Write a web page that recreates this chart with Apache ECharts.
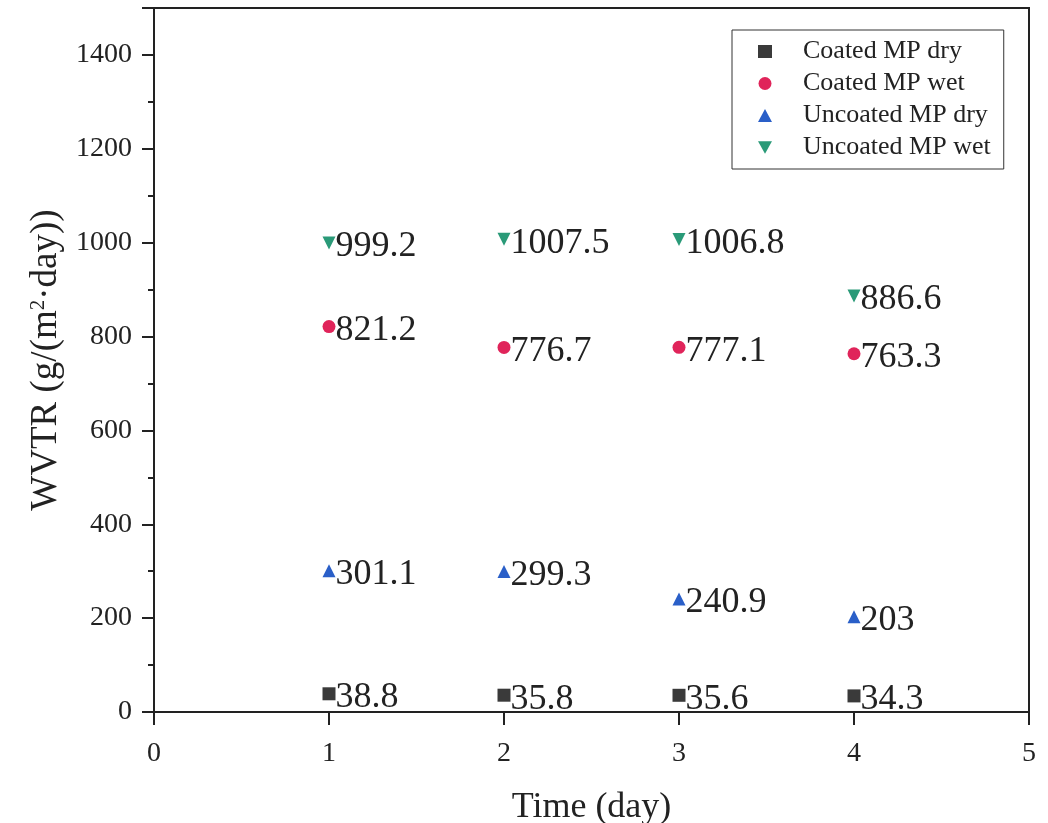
<!DOCTYPE html>
<html>
<head>
<meta charset="utf-8">
<script src="https://cdn.jsdelivr.net/npm/echarts@6/dist/echarts.min.js"></script>
<style>
html,body{margin:0;padding:0;background:#fff;}
#chart{width:1048px;height:823px;}
</style>
</head>
<body>
<div id="chart"></div>
<script>
const days = [1, 2, 3, 4];
const coatedDry = [38.8, 35.8, 35.6, 34.3];
const coatedWet = [821.2, 776.7, 777.1, 763.3];
const uncoatedDry = [301.1, 299.3, 240.9, 203];
const uncoatedWet = [999.2, 1007.5, 1006.8, 886.6];
const seriesNames = ['Coated MP dry', 'Coated MP wet', 'Uncoated MP dry', 'Uncoated MP wet'];
const xTicks = [0, 1, 2, 3, 4, 5];
const yTicks = [0, 200, 400, 600, 800, 1000, 1200, 1400];

const FONT = '"Liberation Serif", "DejaVu Serif", serif';
const TXT = '#222';
const DOWN_TRI = 'path://M0,0 L10,0 L5,9 Z';

function mk(name, vals, symbol, color, rotate) {
  return {
    name: name,
    type: 'scatter',
    symbol: symbol,
    symbolSize: 13,
    symbolRotate: rotate || 0,
    itemStyle: { color: color, opacity: 1 },
    data: days.map((d, i) => [d, vals[i]]),
    label: {
      show: true,
      position: 'right',
      distance: 0,
      offset: [0, 4],
      fontFamily: FONT,
      fontSize: 36,
      color: TXT,
      opacity: 1,
      formatter: p => String(p.value[1])
    },
    emphasis: { disabled: true }
  };
}

const chart = echarts.init(document.getElementById('chart'));
chart.setOption({
  backgroundColor: '#fff',
  animation: false,
  grid: {
    left: 154, right: 19, top: 8, bottom: 111,
    outerBoundsMode: 'none', containLabel: false,
    show: true, borderColor: '#222', borderWidth: 2, backgroundColor: 'transparent'
  },
  legend: {
    orient: 'vertical',
    left: 732, top: 30,
    padding: [8, 13, 8, 26],
    itemWidth: 14, itemHeight: 13,
    itemGap: 5,
    borderColor: '#333', borderWidth: 1,
    textStyle: { fontFamily: FONT, fontSize: 26, color: TXT, lineHeight: 27, padding: [0, 0, 0, 26] },
    data: [
      { name: seriesNames[0] },
      { name: seriesNames[1] },
      { name: seriesNames[2] },
      { name: seriesNames[3], icon: DOWN_TRI }
    ]
  },
  xAxis: {
    type: 'value', min: xTicks[0], max: xTicks[xTicks.length - 1], interval: 1,
    name: 'Time (day)', nameLocation: 'middle', nameGap: 78,
    nameTextStyle: { fontFamily: FONT, fontSize: 36, color: TXT },
    axisLine: { show: true, onZero: false, lineStyle: { color: '#222', width: 2 } },
    axisTick: { show: true, inside: false, length: 13, lineStyle: { color: '#222', width: 2 } },
    axisLabel: { fontFamily: FONT, fontSize: 28, color: TXT, margin: 28 },
    splitLine: { show: false }
  },
  yAxis: {
    type: 'value', min: yTicks[0], max: 1500, interval: 200,
    name: '{a|WVTR (g/(m}{s|2}{a|·day))}', nameLocation: 'middle', nameGap: 81,
    nameRotate: 90,
    nameTextStyle: {
      fontFamily: FONT, fontSize: 37, color: TXT,
      rich: {
        a: { fontFamily: FONT, fontSize: 37, color: TXT },
        s: { fontFamily: FONT, fontSize: 21, color: TXT, verticalAlign: 'top', padding: [0, 0, 16, 0] }
      }
    },
    axisLine: { show: true, lineStyle: { color: '#222', width: 2 } },
    axisTick: { show: true, inside: false, length: 12, lineStyle: { color: '#222', width: 2 } },
    minorTick: { show: true, splitNumber: 2, length: 6, lineStyle: { color: '#222', width: 2 } },
    axisLabel: { fontFamily: FONT, fontSize: 28, color: TXT, margin: 22, showMaxLabel: false, formatter: v => String(v) },
    splitLine: { show: false }
  },
  series: [
    mk(seriesNames[0], coatedDry, 'rect', '#3a3a3a'),
    mk(seriesNames[1], coatedWet, 'circle', '#e0245a'),
    mk(seriesNames[2], uncoatedDry, 'triangle', '#2a5fc8'),
    mk(seriesNames[3], uncoatedWet, 'triangle', '#2a9a78', 180)
  ]
});
</script>
</body>
</html>
